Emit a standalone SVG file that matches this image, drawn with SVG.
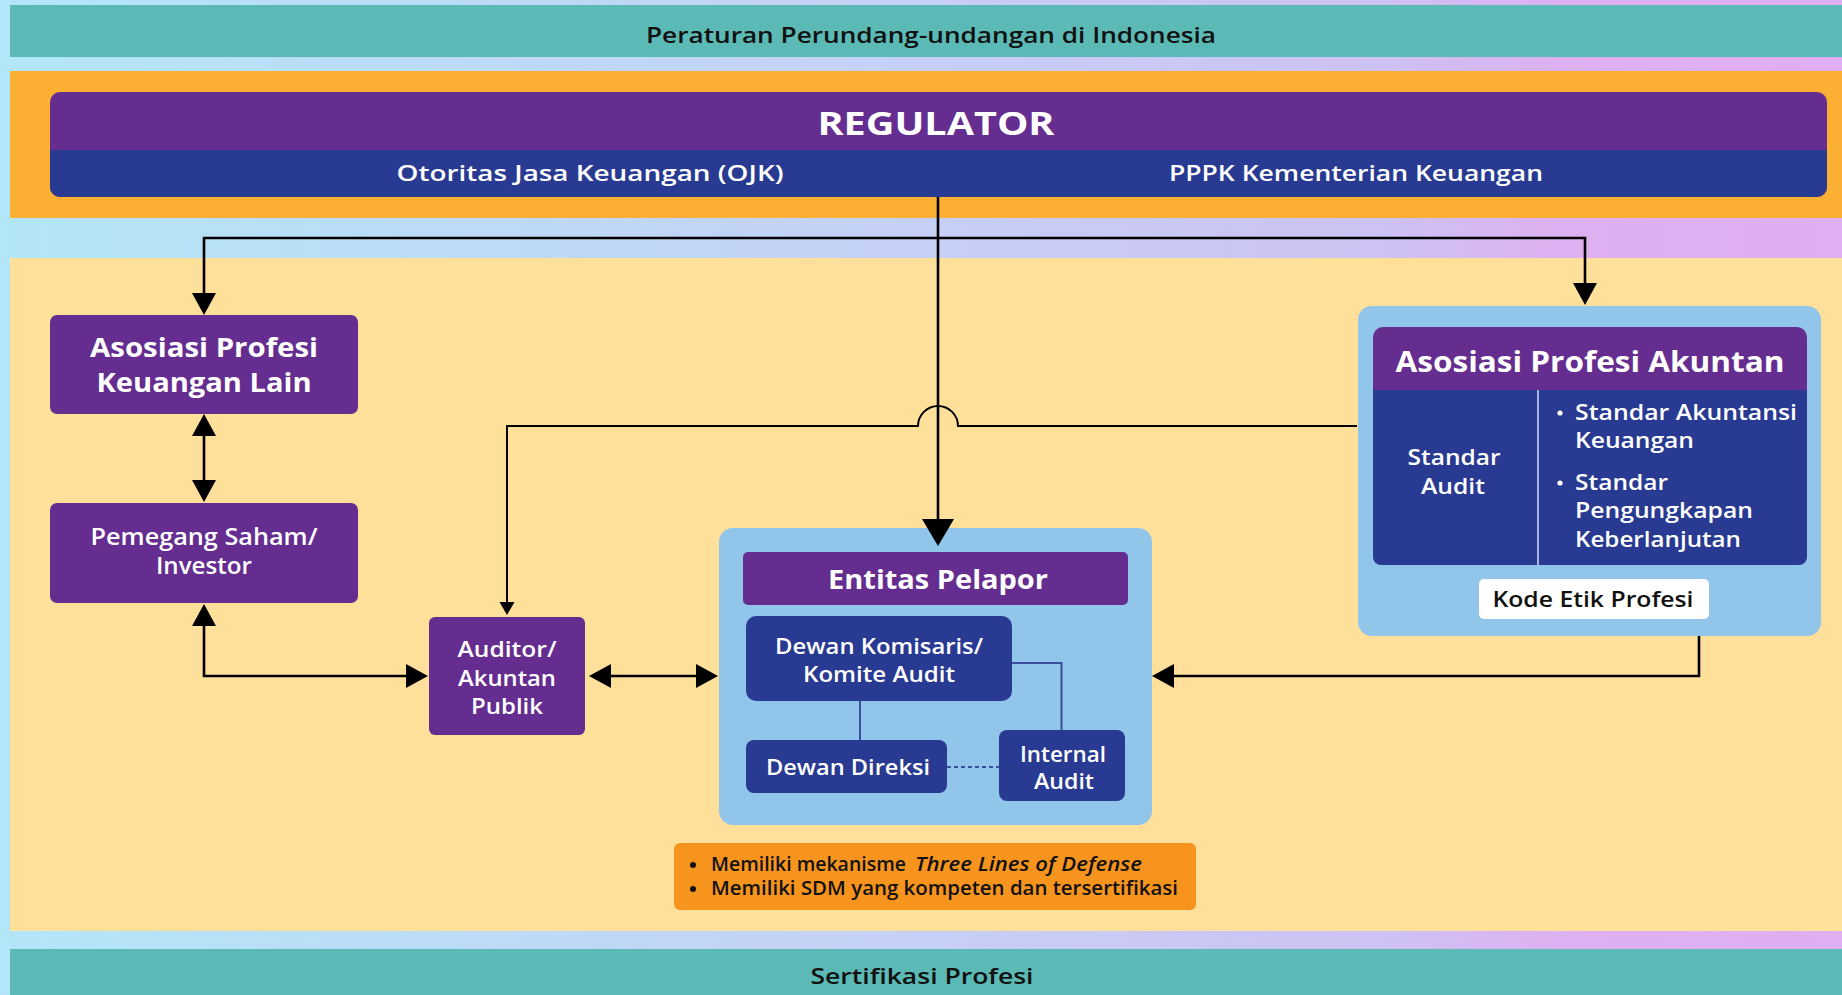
<svg xmlns="http://www.w3.org/2000/svg" width="1842" height="995" viewBox="0 0 1842 995">
<defs>
<linearGradient id="bg" x1="0" y1="0" x2="1" y2="0">
<stop offset="0" stop-color="#B3E6F8"/>
<stop offset="0.45" stop-color="#C4D2F6"/>
<stop offset="0.75" stop-color="#CDC2F3"/>
<stop offset="0.85" stop-color="#DDB0F0"/>
<stop offset="1" stop-color="#E0AEF2"/>
</linearGradient>
<marker id="arr" markerUnits="userSpaceOnUse" markerWidth="22" markerHeight="24" refX="18" refY="12" orient="auto-start-reverse" overflow="visible">
<path d="M0,0 L22,12 L0,24 Z" fill="#000"/>
</marker>
<marker id="arrBig" markerUnits="userSpaceOnUse" markerWidth="27" markerHeight="32" refX="23" refY="16" orient="auto" overflow="visible">
<path d="M0,0 L27,16 L0,32 Z" fill="#000"/>
</marker>
<marker id="arrSm" markerUnits="userSpaceOnUse" markerWidth="13" markerHeight="15" refX="11" refY="7.5" orient="auto" overflow="visible">
<path d="M0,0 L13,7.5 L0,15 Z" fill="#000"/>
</marker>
</defs>
<style>
text{font-family:"Open Sans","Noto Sans","Liberation Sans",sans-serif;text-anchor:middle}
.w{fill:#fff}
.k{fill:#111}
.b7{font-weight:700}
.b6{font-weight:600}
.purple{fill:#652D90}
.navy{fill:#283A91}
.lb{fill:#92C5EA}
.conn{fill:none;stroke:#000;stroke-width:2.6}
.thin{fill:none;stroke:#000;stroke-width:2}
.inner{fill:none;stroke:#3A4FA0;stroke-width:2}
</style>
<rect x="0" y="0" width="1842" height="995" fill="url(#bg)"/>
<g id="band-top">
<rect x="10" y="5" width="1832" height="52" fill="#5BBAB5"/>
<text x="931" y="43" class="k b6" font-size="21" textLength="570" lengthAdjust="spacingAndGlyphs">Peraturan Perundang-undangan di Indonesia</text>
</g>
<rect x="10" y="71" width="1832" height="147" fill="#FBB034"/>
<rect x="10" y="258" width="1832" height="673" fill="#FFE09A"/>
<g id="band-bottom">
<rect x="10" y="949" width="1832" height="46" fill="#5BBAB5"/>
<text x="922" y="984" class="k b6" font-size="21" textLength="223" lengthAdjust="spacingAndGlyphs">Sertifikasi Profesi</text>
</g>
<g id="regulator">
<rect x="50" y="92" width="1777" height="105" rx="10" class="purple"/>
<path d="M50,150 H1827 V187 A10,10 0 0 1 1817,197 H60 A10,10 0 0 1 50,187 Z" class="navy"/>
<text x="936" y="135" class="w b7" font-size="33" textLength="237" lengthAdjust="spacingAndGlyphs">REGULATOR</text>
<text x="590" y="181" class="w b6" font-size="21" textLength="387" lengthAdjust="spacingAndGlyphs">Otoritas Jasa Keuangan (OJK)</text>
<text x="1356" y="181" class="w b6" font-size="21" textLength="374" lengthAdjust="spacingAndGlyphs">PPPK Kementerian Keuangan</text>
</g>
<g id="asosiasi-keuangan-lain">
<rect x="50" y="315" width="308" height="99" rx="7" class="purple"/>
<text x="204" y="357" class="w b7" font-size="27" textLength="228" lengthAdjust="spacingAndGlyphs">Asosiasi Profesi</text>
<text x="204" y="392" class="w b7" font-size="27" textLength="215" lengthAdjust="spacingAndGlyphs">Keuangan Lain</text>
</g>
<g id="pemegang-saham">
<rect x="50" y="503" width="308" height="100" rx="7" class="purple"/>
<text x="204" y="545" class="w b6" font-size="23" textLength="227" lengthAdjust="spacingAndGlyphs">Pemegang Saham/</text>
<text x="204" y="574" class="w b6" font-size="23" textLength="96" lengthAdjust="spacingAndGlyphs">Investor</text>
</g>
<g id="auditor">
<rect x="429" y="617" width="156" height="118" rx="6" class="purple"/>
<text x="507" y="657" class="w b6" font-size="21" textLength="99" lengthAdjust="spacingAndGlyphs">Auditor/</text>
<text x="507" y="686" class="w b6" font-size="21" textLength="98" lengthAdjust="spacingAndGlyphs">Akuntan</text>
<text x="507" y="714" class="w b6" font-size="21" textLength="72" lengthAdjust="spacingAndGlyphs">Publik</text>
</g>
<g id="entitas-pelapor">
<rect x="719" y="528" width="433" height="297" rx="14" class="lb"/>
<rect x="743" y="552" width="385" height="53" rx="5" class="purple"/>
<text x="938" y="589" class="w b7" font-size="27" textLength="220" lengthAdjust="spacingAndGlyphs">Entitas Pelapor</text>
<path class="inner" d="M1012,663 H1061.5 V730"/>
<path class="inner" d="M860,701 V740"/>
<path d="M947,767 H999" fill="none" stroke="#3A4FA0" stroke-width="2" stroke-dasharray="4 3"/>
<g id="dewan-komisaris">
<rect x="746" y="616" width="266" height="85" rx="10" class="navy"/>
<text x="879" y="654" class="w b6" font-size="21" textLength="208" lengthAdjust="spacingAndGlyphs">Dewan Komisaris/</text>
<text x="879" y="682" class="w b6" font-size="21" textLength="152" lengthAdjust="spacingAndGlyphs">Komite Audit</text>
</g>
<g id="dewan-direksi">
<rect x="746" y="740" width="201" height="53" rx="8" class="navy"/>
<text x="848" y="775" class="w b6" font-size="21" textLength="164" lengthAdjust="spacingAndGlyphs">Dewan Direksi</text>
</g>
<g id="internal-audit">
<rect x="999" y="730" width="126" height="71" rx="8" class="navy"/>
<text x="1063" y="762" class="w b6" font-size="21" textLength="86" lengthAdjust="spacingAndGlyphs">Internal</text>
<text x="1064" y="789" class="w b6" font-size="21" textLength="60" lengthAdjust="spacingAndGlyphs">Audit</text>
</g>
</g>
<g id="asosiasi-profesi-akuntan">
<rect x="1358" y="306" width="463" height="330" rx="14" class="lb"/>
<path d="M1373,390 V337 A10,10 0 0 1 1383,327 H1797 A10,10 0 0 1 1807,337 V390 Z" class="purple"/>
<path d="M1373,390 H1807 V557 A8,8 0 0 1 1799,565 H1381 A8,8 0 0 1 1373,557 Z" class="navy"/>
<line x1="1538" y1="390" x2="1538" y2="565" stroke="#D6DCF2" stroke-width="1.5"/>
<text x="1590" y="372" class="w b7" font-size="29" textLength="389" lengthAdjust="spacingAndGlyphs">Asosiasi Profesi Akuntan</text>
<text x="1454" y="465" class="w b6" font-size="22" textLength="93" lengthAdjust="spacingAndGlyphs">Standar</text>
<text x="1453" y="494" class="w b6" font-size="22" textLength="64" lengthAdjust="spacingAndGlyphs">Audit</text>
<circle cx="1560" cy="413" r="2.6" fill="#fff"/>
<circle cx="1560" cy="483" r="2.6" fill="#fff"/>
<text x="1575" y="420" class="w b6" font-size="22" style="text-anchor:start" textLength="222" lengthAdjust="spacingAndGlyphs">Standar Akuntansi</text>
<text x="1575" y="448" class="w b6" font-size="22" style="text-anchor:start" textLength="119" lengthAdjust="spacingAndGlyphs">Keuangan</text>
<text x="1575" y="490" class="w b6" font-size="22" style="text-anchor:start" textLength="93" lengthAdjust="spacingAndGlyphs">Standar</text>
<text x="1575" y="518" class="w b6" font-size="22" style="text-anchor:start" textLength="178" lengthAdjust="spacingAndGlyphs">Pengungkapan</text>
<text x="1575" y="547" class="w b6" font-size="22" style="text-anchor:start" textLength="166" lengthAdjust="spacingAndGlyphs">Keberlanjutan</text>
<rect x="1479" y="579" width="230" height="40" rx="5" fill="#fff"/>
<text x="1593" y="607" class="k b6" font-size="21" textLength="201" lengthAdjust="spacingAndGlyphs">Kode Etik Profesi</text>
</g>
<g id="catatan">
<rect x="674" y="843" width="522" height="67" rx="6" fill="#F7941D"/>
<circle cx="693" cy="865" r="3" fill="#111"/>
<circle cx="693" cy="889" r="3" fill="#111"/>
<text x="711" y="871" class="k b6" font-size="19" style="text-anchor:start" textLength="195" lengthAdjust="spacingAndGlyphs">Memiliki mekanisme</text>
<text x="915" y="871" class="k b6" font-size="19" font-style="italic" style="text-anchor:start" textLength="227" lengthAdjust="spacingAndGlyphs">Three Lines of Defense</text>
<text x="711" y="895" class="k b6" font-size="19" style="text-anchor:start" textLength="467" lengthAdjust="spacingAndGlyphs">Memiliki SDM yang kompeten dan tersertifikasi</text>
</g>
<g id="connectors">
<path class="conn" d="M938,197 V542" marker-end="url(#arrBig)"/>
<path class="conn" d="M204,311 V238 H1585 V301" marker-start="url(#arr)" marker-end="url(#arr)"/>
<path class="conn" d="M204,418 V498" marker-start="url(#arr)" marker-end="url(#arr)"/>
<path class="conn" d="M204,608 V676 H424" marker-start="url(#arr)" marker-end="url(#arr)"/>
<path class="conn" d="M593,676 H714" marker-start="url(#arr)" marker-end="url(#arr)"/>
<path class="thin" d="M1357,426 H958 A20,20 0 0 0 918,426 H507 V613" marker-end="url(#arrSm)"/>
<path class="conn" d="M1699,636 V676 H1156" marker-end="url(#arr)"/>
</g>
</svg>
